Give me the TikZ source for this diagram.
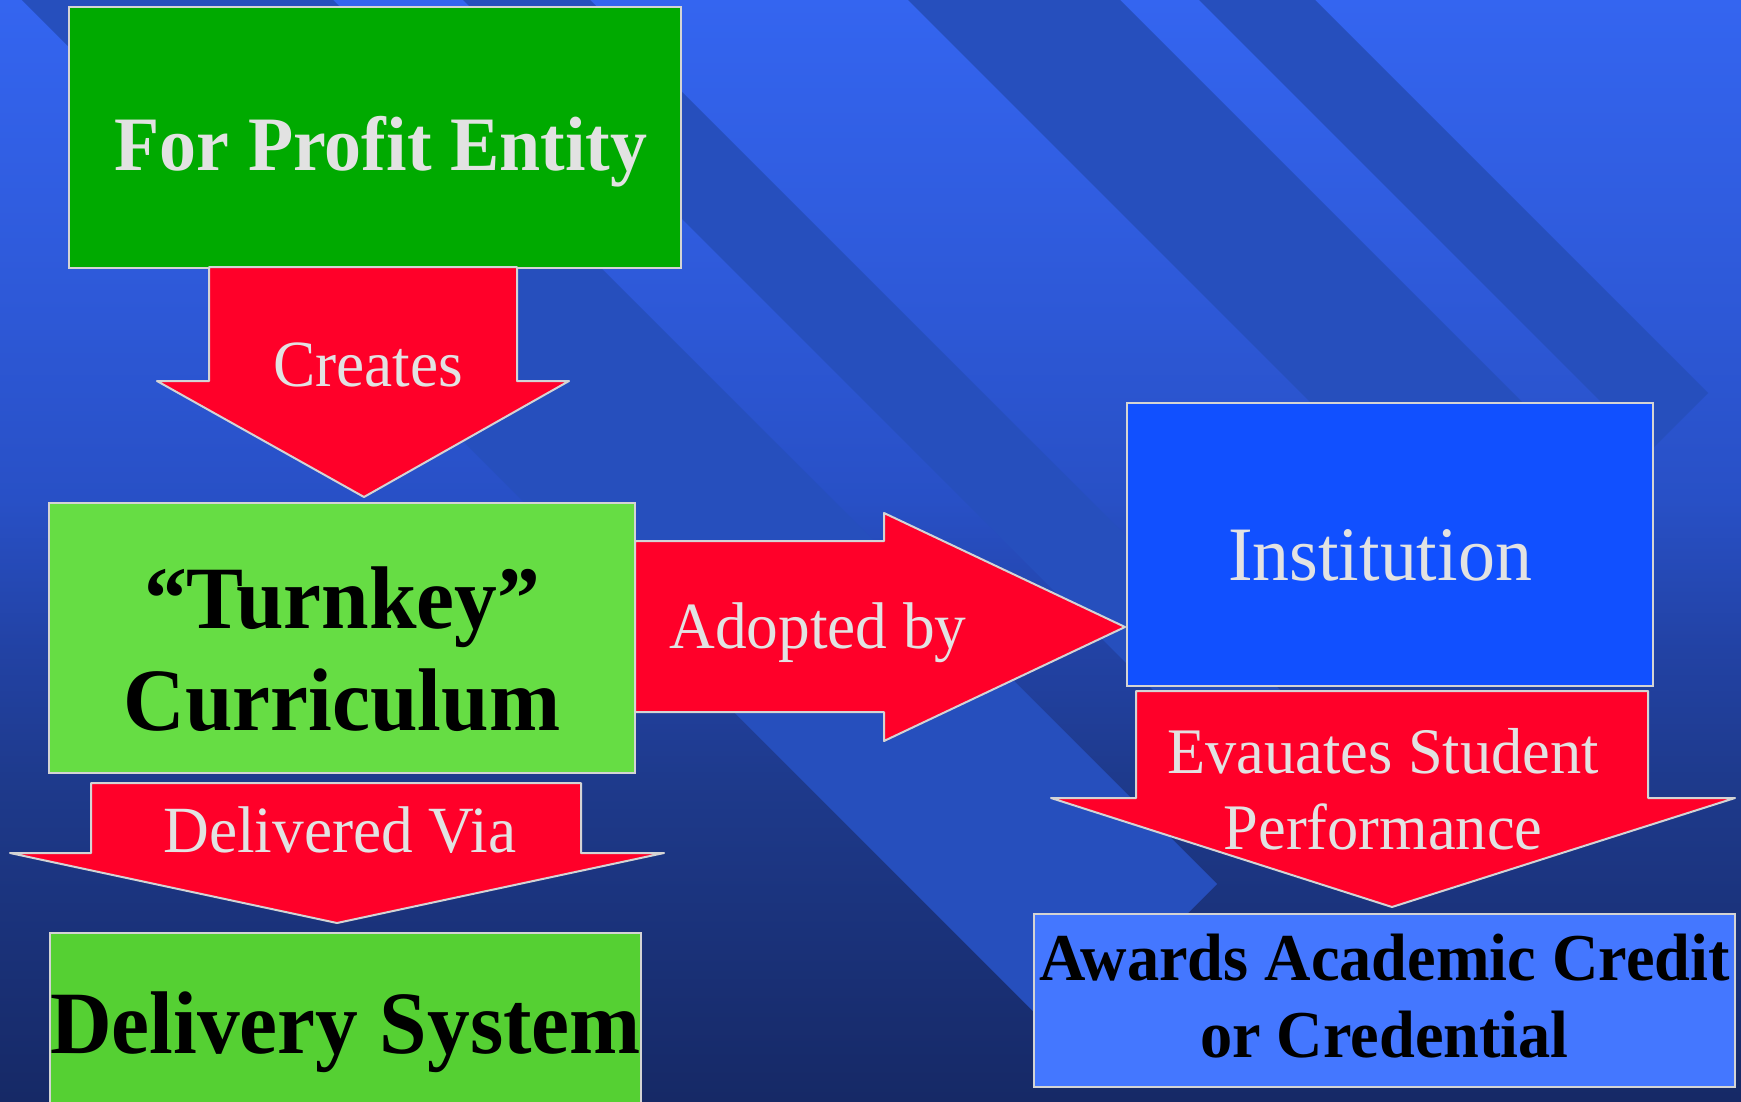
\documentclass[tikz,border=0pt]{standalone}
\usepackage{fontspec}
\setmainfont{Liberation Serif}[FakeStretch=0.96]
\definecolor{bg0}{RGB}{52,101,240}
\definecolor{bg1}{RGB}{47,91,220}
\definecolor{bg2}{RGB}{40,80,198}
\definecolor{bg3}{RGB}{34,66,164}
\definecolor{bg4}{RGB}{30,58,140}
\definecolor{bg5}{RGB}{22,41,102}
\definecolor{bandblue}{RGB}{38,79,189}
\definecolor{fpgreen}{RGB}{0,170,0}
\definecolor{tkgreen}{RGB}{102,221,68}
\definecolor{dsgreen}{RGB}{85,208,51}
\definecolor{instblue}{RGB}{17,80,255}
\definecolor{awblue}{RGB}{68,119,255}
\definecolor{arrowred}{RGB}{255,0,41}
\definecolor{txtgray}{RGB}{226,226,226}
\definecolor{edgegray}{RGB}{212,212,212}
\pgfdeclareverticalshading{bgshade}{100bp}{color(0bp)=(bg5); color(25bp)=(bg5); color(39.58bp)=(bg4); color(45.48bp)=(bg3); color(52.29bp)=(bg2); color(63.65bp)=(bg1); color(75bp)=(bg0); color(100bp)=(bg0)}
\begin{document}
\begin{tikzpicture}[x=1pt,y=-1pt,
  box/.style={draw=edgegray, line width=2pt, inner sep=0pt, rectangle, align=center},
  blockarrow/.style={fill=arrowred, draw=edgegray, line width=2pt, line join=round},
  band/.style={fill=bandblue},
  lbl/.style={text=txtgray, inner sep=0pt, anchor=base},
]
\useasboundingbox (0,0) rectangle (1741,1101);
\clip (0,0) rectangle (1741,1101);
% background
\fill[shading=bgshade] (0,0) rectangle (1741,1101);
% diagonal bands
\fill[band] (-28,-50) -- (283,-50) -- (1217,884) -- (1061.5,1039.5) -- cycle;
\fill[band] (413,-50) -- (540,-50) -- (1345.5,755.5) -- (1282,819) -- cycle;
\fill[band] (858,-50) -- (1070,-50) -- (1610.5,490.5) -- (1504.5,596.5) -- cycle;
\fill[band] (1149,-50) -- (1265,-50) -- (1708,393) -- (1650,451) -- cycle;
% boxes
\node[box, fill=fpgreen, minimum width=612pt, minimum height=261pt,
      text=txtgray, font=\fontsize{77pt}{92pt}\selectfont\bfseries,
      text height=65pt, text depth=0pt] (fp) at (375,137.5) {\hspace*{12pt}For Profit Entity};
\node[box, fill=tkgreen, minimum width=586pt, minimum height=270pt,
      text=black, font=\fontsize{89pt}{102pt}\selectfont\bfseries,
      text height=0pt, text depth=20pt] (tk) at (342,638)
      {\begin{tabular}[t]{@{}c@{}}“Turnkey”\\Curriculum\end{tabular}};
\node[box, fill=instblue, minimum width=526pt, minimum height=283pt,
      text=txtgray, font=\fontsize{77pt}{92pt}\selectfont,
      text height=71pt, text depth=0pt] (inst) at (1390,544.5) {Institution\hspace*{20pt}};
\node[box, fill=dsgreen, minimum width=589pt, minimum height=187pt,
      text=black, font=\fontsize{89pt}{106pt}\selectfont\bfseries,
      text height=53pt, text depth=0pt] (ds) at (345.5,1026.5) {Delivery System};
\node[box, fill=awblue, minimum width=701pt, minimum height=173pt,
      text=black, font=\fontsize{67pt}{77pt}\selectfont\bfseries,
      text height=0pt, text depth=41pt] (aw) at (1384.5,1000.5)
      {\begin{tabular}[t]{@{}c@{}}Awards Academic Credit\\or Credential\end{tabular}};
% block arrows (connectors)
\draw[blockarrow] (209,267) -- (517,267) -- (517,381) -- (569,381) -- (364,497) -- (157,381) -- (209,381) -- cycle;
\draw[blockarrow] (635,541) -- (884,541) -- (884,513) -- (1125,627) -- (884,741) -- (884,712) -- (635,712) -- cycle;
\draw[blockarrow] (91,783) -- (581,783) -- (581,853) -- (664,853) -- (337,923) -- (10,853) -- (91,853) -- cycle;
\draw[blockarrow] (1136,691) -- (1648,691) -- (1648,798) -- (1735,798) -- (1392,907) -- (1051,798) -- (1136,798) -- cycle;
% arrow labels
\node[lbl, font=\fontsize{66pt}{78pt}\selectfont] (creates) at (368,386) {Creates};
\node[lbl, font=\fontsize{66pt}{78pt}\selectfont] (adopted) at (818,648) {Adopted by};
\node[lbl, font=\fontsize{66pt}{78pt}\selectfont] (delivered) at (340,852) {Delivered Via};
\node[lbl, font=\fontsize{65pt}{76pt}\selectfont] (evaluates) at (1383,773)
      {\begin{tabular}[t]{@{}c@{}}Evauates Student\\Performance\end{tabular}};
\end{tikzpicture}
\end{document}
